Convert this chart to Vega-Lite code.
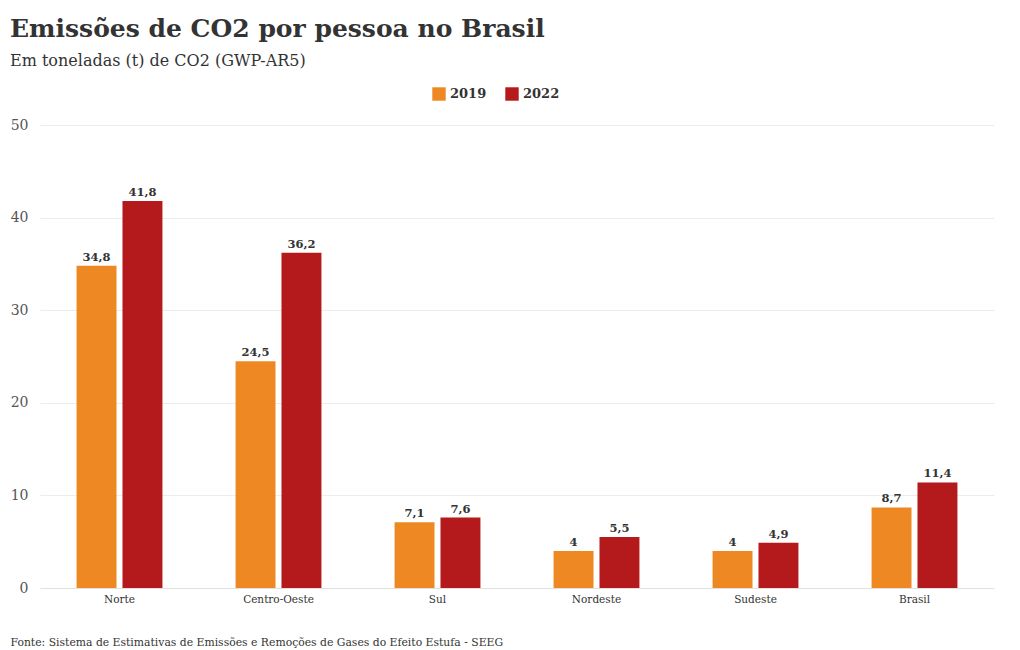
{
  "$schema": "https://vega.github.io/schema/vega-lite/v6.json",
  "autosize": {"type": "none"},
  "width": 954,
  "height": 463,
  "padding": {"left": 40, "top": 125, "right": 26, "bottom": 62},
  "background": "#ffffff",
  "title": {
    "text": "Emissões de CO2 por pessoa no Brasil",
    "subtitle": "Em toneladas (t) de CO2 (GWP-AR5)",
    "anchor": "start",
    "frame": "group",
    "dx": -30,
    "offset": 18,
    "font": "DejaVu Serif",
    "fontSize": 25,
    "fontWeight": "bold",
    "color": "#333333",
    "subtitleFont": "DejaVu Serif",
    "subtitleFontSize": 16,
    "subtitleColor": "#333333",
    "subtitlePadding": 11
  },
  "data": {
    "values": [
      {"regiao": "Norte", "ano": "2019", "valor": 34.8},
      {"regiao": "Norte", "ano": "2022", "valor": 41.8},
      {"regiao": "Centro-Oeste", "ano": "2019", "valor": 24.5},
      {"regiao": "Centro-Oeste", "ano": "2022", "valor": 36.2},
      {"regiao": "Sul", "ano": "2019", "valor": 7.1},
      {"regiao": "Sul", "ano": "2022", "valor": 7.6},
      {"regiao": "Nordeste", "ano": "2019", "valor": 4},
      {"regiao": "Nordeste", "ano": "2022", "valor": 5.5},
      {"regiao": "Sudeste", "ano": "2019", "valor": 4},
      {"regiao": "Sudeste", "ano": "2022", "valor": 4.9},
      {"regiao": "Brasil", "ano": "2019", "valor": 8.7},
      {"regiao": "Brasil", "ano": "2022", "valor": 11.4}
    ]
  },
  "encoding": {
    "x": {
      "field": "regiao",
      "type": "nominal",
      "sort": null,
      "scale": {"paddingInner": 0.46, "paddingOuter": 0.23},
      "axis": {
        "title": "Fonte: Sistema de Estimativas de Emissões e Remoções de Gases do Efeito Estufa - SEEG",
        "titleAnchor": "start",
        "titleAlign": "left",
        "titleX": -30,
        "titleY": 48,
        "titleFont": "DejaVu Serif",
        "titleFontSize": 10.8,
        "titleFontWeight": "normal",
        "titleColor": "#333333",
        "labelAngle": 0,
        "labelFont": "DejaVu Serif",
        "labelFontSize": 10.5,
        "labelColor": "#333333",
        "labelPadding": 6,
        "ticks": false,
        "domainColor": "#e0e0e0"
      }
    },
    "xOffset": {
      "field": "ano",
      "type": "nominal",
      "scale": {"paddingInner": 0.13}
    },
    "y": {
      "field": "valor",
      "type": "quantitative",
      "scale": {"domain": [0, 50]},
      "axis": {
        "title": null,
        "values": [0, 10, 20, 30, 40, 50],
        "domain": false,
        "ticks": false,
        "labelFont": "DejaVu Serif",
        "labelFontSize": 14,
        "labelFontWeight": 300,
        "labelColor": "#555555",
        "labelPadding": 12,
        "gridColor": "#ececec"
      }
    }
  },
  "layer": [
    {
      "mark": {"type": "bar"},
      "encoding": {
        "color": {
          "field": "ano",
          "type": "nominal",
          "scale": {"domain": ["2019", "2022"], "range": ["#ee8823", "#b4191b"]},
          "legend": {
            "title": null,
            "orient": "none",
            "direction": "horizontal",
            "legendX": 392,
            "legendY": -38,
            "symbolType": "square",
            "symbolSize": 180,
            "symbolStrokeWidth": 0,
            "symbolOpacity": 1,
            "labelFont": "DejaVu Serif",
            "labelFontSize": 13,
            "labelFontWeight": "bold",
            "labelColor": "#333333",
            "columnPadding": 18,
            "labelOffset": 4
          }
        }
      }
    },
    {
      "mark": {"type": "text", "baseline": "bottom", "dy": -3, "font": "DejaVu Serif", "fontSize": 11.5, "fontWeight": "bold", "color": "#333333"},
      "encoding": {
        "text": {"field": "valor", "type": "quantitative", "format": "~r"}
      }
    }
  ],
  "config": {
    "view": {"stroke": null},
    "locale": {"number": {"decimal": ",", "thousands": ".", "grouping": [3], "currency": ["R$", ""]}}
  }
}
